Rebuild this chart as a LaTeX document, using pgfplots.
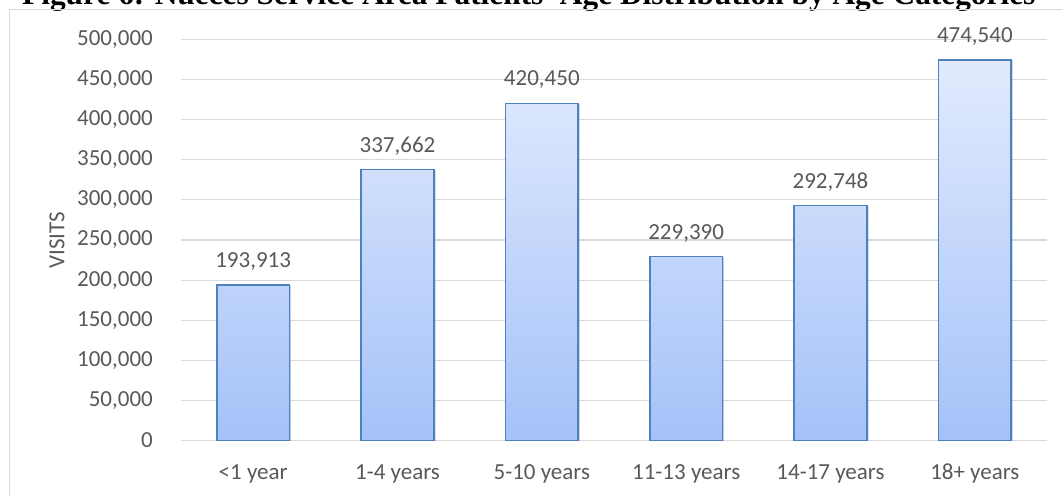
\documentclass[border=0pt]{standalone}
\usepackage{fontspec}
\setmainfont{Carlito}
\newfontfamily\titlefont{Liberation Serif}
\usepackage{pgfplots}
\pgfplotsset{compat=1.18}
\usetikzlibrary{shadows}
\pgfkeys{/pgf/number format/.cd, fixed, 1000 sep={,}, assume math mode=true}

\definecolor{labelgray}{HTML}{595959}
\definecolor{gridgray}{HTML}{D9D9D9}
\definecolor{barline}{HTML}{4F81BD}
\definecolor{bartop}{HTML}{E2EBFD}
\definecolor{barbottom}{HTML}{A4C2F9}

\newcommand{\chartfont}{\fontsize{23}{27}\selectfont}

\begin{document}
\begin{tikzpicture}[x=1pt,y=1pt]
\clip (0,0) rectangle (1062,495);
\fill[white] (0,0) rectangle (1062,495);
% figure caption running above the chart frame
\node[anchor=base west, inner sep=0pt] at (22,490)
  {\resizebox{1013pt}{!}{\titlefont\bfseries Figure 6: Nueces Service Area Patients' Age Distribution by Age Categories}};
% chart frame
\draw[gridgray, line width=1pt] (9,485) rectangle (1100,-40);
\begin{axis}[
  at={(181pt,54.5pt)}, anchor=south west,
  scale only axis, width=866pt, height=401pt,
  xmin=-0.5, xmax=5.5, ymin=0, ymax=500000,
  ytick={0,50000,...,500000},
  xtick=data,
  xticklabels={{<1 year},{1-4 years},{5-10 years},{11-13 years},{14-17 years},{18+ years}},
  ybar, bar width=72.6pt,
  axis line style={draw=none},
  major tick length=0pt,
  ymajorgrids, grid style={gridgray, line width=1pt},
  scaled y ticks=false,
  tick label style={font=\chartfont, text=labelgray},
  yticklabel style={anchor=east, inner sep=0pt, xshift=-28pt},
  xticklabel style={anchor=base, inner sep=0pt, yshift=-38.5pt},
  ylabel={VISITS},
  every axis y label/.style={at={(axis description cs:-0.1432,0.5)}, rotate=90, anchor=center, font=\chartfont, text=labelgray},
  nodes near coords,
  every node near coord/.append style={font=\chartfont, text=labelgray, anchor=base, inner sep=0pt, yshift=17.5pt},
]
\addplot[draw=barline, line width=1.5pt, top color=bartop, bottom color=barbottom,
  drop shadow={shadow xshift=1.2pt, shadow yshift=-1.2pt, fill=black, opacity=0.18}]
  coordinates {(0,193913) (1,337662) (2,420450) (3,229390) (4,292748) (5,474540)};
\end{axis}
\end{tikzpicture}
\end{document}
